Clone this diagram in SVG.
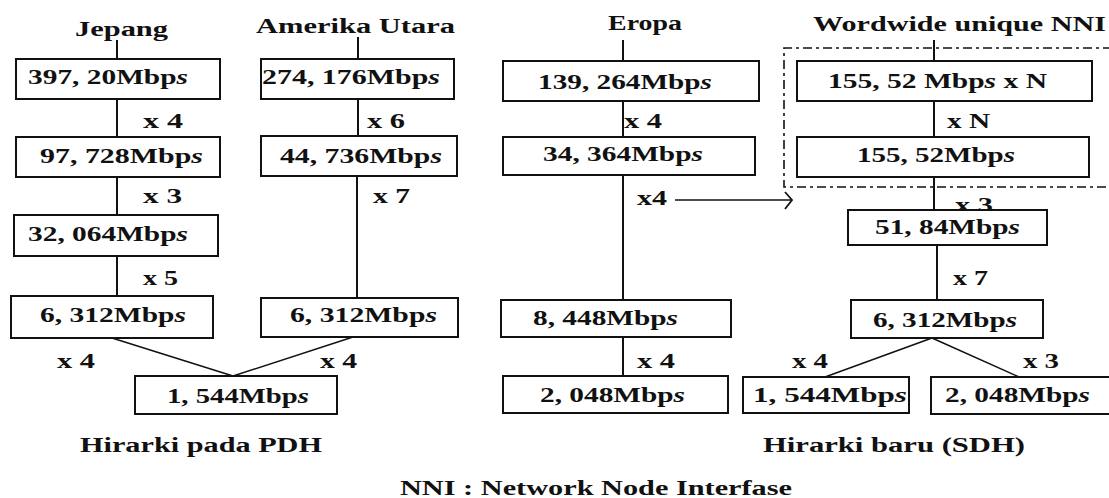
<svg xmlns="http://www.w3.org/2000/svg" width="1109" height="498" viewBox="0 0 1109 498">
<style>
  text { font-family: "Liberation Serif", "Times New Roman", serif; font-weight: bold; font-size: 20px; fill: #111; }
  .it { font-style: italic; }
  .box { fill: #fff; stroke: #111; stroke-width: 2; }
  .ln { stroke: #111; stroke-width: 2; fill: none; }
  .dg { stroke: #111; stroke-width: 1.5; fill: none; }
  .dash { stroke: #111; stroke-width: 1.6; fill: none; stroke-dasharray: 9 4 3 4; }
</style>
<defs>
  <marker id="chev" markerUnits="userSpaceOnUse" markerWidth="12" markerHeight="20" refX="8" refY="9" orient="auto">
    <path d="M1,1 L8,9 L1,18" fill="none" stroke="#111" stroke-width="1.8"/>
  </marker>
</defs>
<rect width="1109" height="498" fill="#fff"/>

<!-- headers and captions -->
<g id="headers">
  <text x="75" y="36" textLength="93" lengthAdjust="spacingAndGlyphs">Jepang</text>
  <text x="256" y="33" textLength="199" lengthAdjust="spacingAndGlyphs">Amerika Utara</text>
  <text x="608" y="30" textLength="74" lengthAdjust="spacingAndGlyphs">Eropa</text>
  <text x="813" y="31" textLength="293" lengthAdjust="spacingAndGlyphs">Wordwide unique NNI</text>
  <text x="80" y="452" textLength="242" lengthAdjust="spacingAndGlyphs">Hirarki pada PDH</text>
  <text x="763" y="452" textLength="262" lengthAdjust="spacingAndGlyphs">Hirarki baru (SDH)</text>
  <text x="400" y="495" textLength="392" lengthAdjust="spacingAndGlyphs">NNI : Network Node Interfase</text>
</g>

<!-- dashed SDH region -->
<g id="nni-region">
  <path class="dash" d="M1112,48 L784,48 L784,187 L1112,187"/>
</g>

<!-- connectors -->
<g id="connectors">
  <line class="ln" x1="117" y1="40" x2="117" y2="59"/>
  <line class="ln" x1="117" y1="99" x2="117" y2="137"/>
  <line class="ln" x1="117" y1="177" x2="117" y2="215"/>
  <line class="ln" x1="117" y1="256" x2="117" y2="296"/>
  <line class="ln" x1="358" y1="37" x2="358" y2="59"/>
  <line class="ln" x1="358" y1="99" x2="358" y2="136"/>
  <line class="ln" x1="357" y1="176" x2="357" y2="298"/>
  <line class="dg" x1="112" y1="338" x2="233" y2="376"/>
  <line class="dg" x1="353" y1="337" x2="233" y2="376"/>

  <line class="ln" x1="623" y1="40" x2="623" y2="61"/>
  <line class="ln" x1="623" y1="101" x2="623" y2="137"/>
  <line class="ln" x1="623" y1="175" x2="623" y2="300"/>
  <line class="ln" x1="623" y1="337" x2="623" y2="376"/>
  <line class="dg" x1="675" y1="200" x2="792" y2="200" marker-end="url(#chev)"/>

  <line class="ln" x1="934" y1="40" x2="934" y2="61"/>
  <line class="ln" x1="934" y1="101" x2="934" y2="137"/>
  <line class="ln" x1="934" y1="177" x2="934" y2="210"/>
  <line class="ln" x1="937" y1="245" x2="937" y2="300"/>
  <line class="dg" x1="932" y1="338" x2="825" y2="377"/>
  <line class="dg" x1="932" y1="338" x2="1019" y2="377"/>
</g>

<!-- multiplex labels -->
<g id="labels">
  <text x="143" y="128" textLength="40" lengthAdjust="spacingAndGlyphs">x 4</text>
  <text x="367" y="128" textLength="38" lengthAdjust="spacingAndGlyphs">x 6</text>
  <text x="143" y="203" textLength="39" lengthAdjust="spacingAndGlyphs">x 3</text>
  <text x="373" y="203" textLength="37" lengthAdjust="spacingAndGlyphs">x 7</text>
  <text x="143" y="285" textLength="35" lengthAdjust="spacingAndGlyphs">x 5</text>
  <text x="57" y="368" textLength="38" lengthAdjust="spacingAndGlyphs">x 4</text>
  <text x="320" y="368" textLength="37" lengthAdjust="spacingAndGlyphs">x 4</text>
  <text x="624" y="128" textLength="38" lengthAdjust="spacingAndGlyphs">x 4</text>
  <text x="637" y="205" textLength="30" lengthAdjust="spacingAndGlyphs">x4</text>
  <text x="637" y="368" textLength="38" lengthAdjust="spacingAndGlyphs">x 4</text>
  <text x="947" y="128" textLength="43" lengthAdjust="spacingAndGlyphs">x N</text>
  <text x="955" y="212" textLength="38" lengthAdjust="spacingAndGlyphs">x 3</text>
  <text x="953" y="285" textLength="35" lengthAdjust="spacingAndGlyphs">x 7</text>
  <text x="792" y="368" textLength="36" lengthAdjust="spacingAndGlyphs">x 4</text>
  <text x="1023" y="368" textLength="36" lengthAdjust="spacingAndGlyphs">x 3</text>
</g>

<!-- PDH Jepang -->
<g id="jp-397"><rect class="box" x="16" y="59" width="204" height="40"/><text x="28" y="84" textLength="160" lengthAdjust="spacingAndGlyphs">397, 20Mbp<tspan class="it">s</tspan></text></g>
<g id="jp-97"><rect class="box" x="16" y="137" width="204" height="40"/><text x="40" y="163" textLength="163" lengthAdjust="spacingAndGlyphs">97, 728Mbp<tspan class="it">s</tspan></text></g>
<g id="jp-32"><rect class="box" x="14" y="215" width="204" height="41"/><text x="28" y="241" textLength="160" lengthAdjust="spacingAndGlyphs">32, 064Mbp<tspan class="it">s</tspan></text></g>
<g id="jp-6"><rect class="box" x="11" y="296" width="202" height="42"/><text x="40" y="322" textLength="146" lengthAdjust="spacingAndGlyphs">6, 312Mbp<tspan class="it">s</tspan></text></g>

<!-- PDH Amerika Utara -->
<g id="us-274"><rect class="box" x="261" y="59" width="193" height="40"/><text x="262" y="84" textLength="178" lengthAdjust="spacingAndGlyphs">274, 176Mbp<tspan class="it">s</tspan></text></g>
<g id="us-44"><rect class="box" x="261" y="136" width="196" height="40"/><text x="280" y="163" textLength="162" lengthAdjust="spacingAndGlyphs">44, 736Mbp<tspan class="it">s</tspan></text></g>
<g id="us-6"><rect class="box" x="261" y="298" width="197" height="39"/><text x="290" y="322" textLength="147" lengthAdjust="spacingAndGlyphs">6, 312Mbp<tspan class="it">s</tspan></text></g>
<g id="pdh-1"><rect class="box" x="135" y="376" width="202" height="38"/><text x="167" y="403" textLength="142" lengthAdjust="spacingAndGlyphs">1, 544Mbp<tspan class="it">s</tspan></text></g>

<!-- PDH Eropa -->
<g id="eu-139"><rect class="box" x="503" y="61" width="256" height="40"/><text x="538" y="89" textLength="174" lengthAdjust="spacingAndGlyphs">139, 264Mbp<tspan class="it">s</tspan></text></g>
<g id="eu-34"><rect class="box" x="503" y="137" width="252" height="38"/><text x="543" y="161" textLength="160" lengthAdjust="spacingAndGlyphs">34, 364Mbp<tspan class="it">s</tspan></text></g>
<g id="eu-8"><rect class="box" x="501" y="300" width="230" height="37"/><text x="533" y="325" textLength="145" lengthAdjust="spacingAndGlyphs">8, 448Mbp<tspan class="it">s</tspan></text></g>
<g id="eu-2"><rect class="box" x="503" y="376" width="225" height="37"/><text x="540" y="402" textLength="145" lengthAdjust="spacingAndGlyphs">2, 048Mbp<tspan class="it">s</tspan></text></g>

<!-- SDH -->
<g id="sdh-155n"><rect class="box" x="797" y="61" width="295" height="40"/><text x="828" y="88" textLength="219" lengthAdjust="spacingAndGlyphs">155, 52 Mbp<tspan class="it">s</tspan> x N</text></g>
<g id="sdh-155"><rect class="box" x="797" y="137" width="292" height="40"/><text x="857" y="162" textLength="158" lengthAdjust="spacingAndGlyphs">155, 52Mbp<tspan class="it">s</tspan></text></g>
<g id="sdh-51"><rect class="box" x="848" y="210" width="199" height="35"/><text x="875" y="234" textLength="145" lengthAdjust="spacingAndGlyphs">51, 84Mbp<tspan class="it">s</tspan></text></g>
<g id="sdh-6"><rect class="box" x="851" y="300" width="192" height="38"/><text x="873" y="327" textLength="144" lengthAdjust="spacingAndGlyphs">6, 312Mbp<tspan class="it">s</tspan></text></g>
<g id="sdh-1"><rect class="box" x="743" y="377" width="166" height="36"/><text x="753" y="402" textLength="154" lengthAdjust="spacingAndGlyphs">1, 544Mbp<tspan class="it">s</tspan></text></g>
<g id="sdh-2"><rect class="box" x="931" y="377" width="190" height="37"/><text x="945" y="402" textLength="145" lengthAdjust="spacingAndGlyphs">2, 048Mbp<tspan class="it">s</tspan></text></g>
</svg>
